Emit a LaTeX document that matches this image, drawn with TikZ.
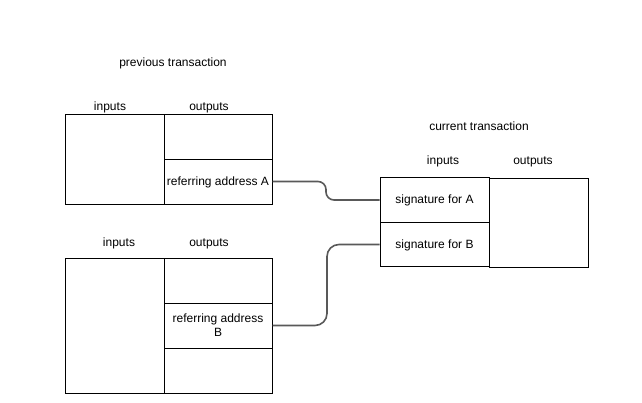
\documentclass[tikz,border=0pt]{standalone}
\usepackage{fontspec}
\setmainfont{Liberation Sans}
\begin{document}
\begin{tikzpicture}[x=0.75pt,y=-0.75pt,
  every node/.style={font=\fontsize{9}{10.5}\selectfont},
  cell/.style={draw=black,line width=0.75pt,inner sep=0pt,align=center,text depth=0.6pt},
  lbl/.style={inner sep=0pt,yshift=-1.2pt},
  conn/.style={draw=black!65,line width=1.2pt}]
\useasboundingbox (0,0) rectangle (642,403);
% previous transaction A
\node[lbl] (titleP) at (173,62) {previous transaction};
\node[lbl] (inhA) at (110,106) {inputs};
\node[lbl] (outhA) at (209,106) {outputs};
\node[cell,minimum width={99*0.75pt},minimum height={90*0.75pt}] (inA) at (114.5,159) {};
\node[cell,minimum width={108*0.75pt},minimum height={45*0.75pt}] (outA1) at (218,136.5) {};
\node[cell,minimum width={108*0.75pt},minimum height={45*0.75pt}] (outA2) at (218,181.5) {referring address A};
% previous transaction B
\node[lbl] (inhB) at (119,242) {inputs};
\node[lbl] (outhB) at (209,242) {outputs};
\node[cell,minimum width={99*0.75pt},minimum height={135*0.75pt}] (inB) at (114.5,325.5) {};
\node[cell,minimum width={108*0.75pt},minimum height={45*0.75pt}] (outB1) at (218,280.5) {};
\node[cell,minimum width={108*0.75pt},minimum height={45*0.75pt}] (outB2) at (218,325.5) {referring address\\B};
\node[cell,minimum width={108*0.75pt},minimum height={45*0.75pt}] (outB3) at (218,370.5) {};
% current transaction
\node[lbl] (titleC) at (479,125) {current transaction};
\node[lbl] (inhC) at (443,160) {inputs};
\node[lbl] (outhC) at (533,160) {outputs};
\node[cell,minimum width={109*0.75pt},minimum height={44.5*0.75pt}] (sigA) at (434.5,200) {signature for A};
\node[cell,minimum width={109*0.75pt},minimum height={44.5*0.75pt}] (sigB) at (434.5,244.5) {signature for B};
\node[cell,minimum width={99*0.75pt},minimum height={89*0.75pt}] (cout) at (538.5,222.5) {};
% connectors
\coordinate (midA) at (326,0);
\coordinate (midB) at (327,0);
\draw[conn,rounded corners=6pt] (outA2.east) -- (outA2.east -| midA) |- (sigA.west);
\draw[conn,rounded corners=9pt] (outB2.east) -- (outB2.east -| midB) |- (sigB.west);
\end{tikzpicture}
\end{document}
